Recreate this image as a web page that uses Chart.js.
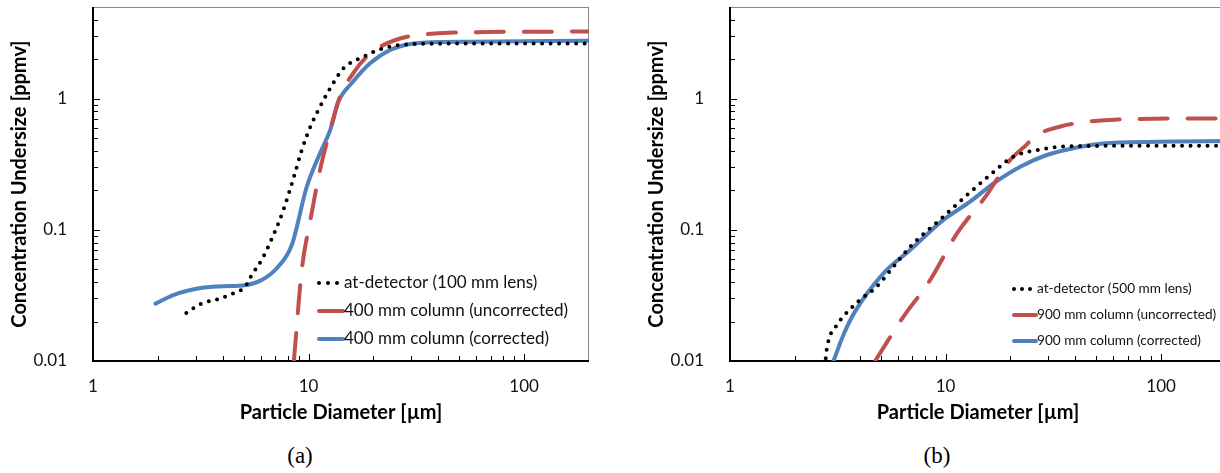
<!DOCTYPE html>
<html>
<head>
<meta charset="utf-8">
<script src="https://cdn.jsdelivr.net/npm/chart.js@4.4.1/dist/chart.umd.min.js"></script>
<style>
  html, body { margin: 0; padding: 0; background: #fff; overflow: hidden; width: 1220px; height: 473px; }
  .box { position: absolute; top: 0; width: 600px; height: 430px; }
  .cap { position: absolute; top: 443px; font-family: "Liberation Serif", serif; font-size: 23px; color: #000; transform: translateX(-50%); }
</style>
</head>
<body>
<div class="box" style="left:0"><canvas id="chart-a"></canvas></div>
<div class="box" style="left:637px"><canvas id="chart-b"></canvas></div>
<div class="cap" style="left:300px">(a)</div>
<div class="cap" style="left:937px">(b)</div>
<script>
// (a) 100 mm lens / 400 mm column
const detAX = [2.71, 3.14, 3.87, 4.48, 5.07, 5.45, 6.06, 6.87, 7.64, 8.51, 9.3, 10.2, 11.1, 12.6, 14.5, 18, 22.2, 30.6, 50, 200];
const detAY = [0.0232, 0.0271, 0.0299, 0.0328, 0.0367, 0.0452, 0.0589, 0.0912, 0.1415, 0.247, 0.405, 0.611, 0.819, 1.2, 1.7, 2.09, 2.42, 2.61, 2.63, 2.63];
const uncAX = [8.55, 9.3, 10.2, 11.3, 12.6, 14.0, 16.1, 18.6, 22.2, 29.6, 37, 56, 200];
const uncAY = [0.01, 0.0494, 0.119, 0.286, 0.576, 1.04, 1.56, 2.09, 2.56, 3.0, 3.12, 3.21, 3.25];
const corAX = [1.95, 2.34, 2.71, 3.27, 4.03, 5.07, 6.06, 7.12, 8.36, 9.81, 11.3, 12.6, 13.75, 16.1, 19.3, 23.9, 29.6, 36.6, 56, 200];
const corAY = [0.0274, 0.0317, 0.0342, 0.0363, 0.0372, 0.0378, 0.0414, 0.0509, 0.0766, 0.213, 0.383, 0.576, 0.946, 1.35, 1.86, 2.35, 2.61, 2.69, 2.72, 2.77];

// (b) 500 mm lens / 900 mm column
const detBX = [2.78, 2.81, 3.18, 3.58, 4.09, 4.71, 5.73, 6.85, 9.77, 12.8, 16.1, 20.6, 26.5, 39.2, 80, 200];
const detBY = [0.0105, 0.0123, 0.0194, 0.0245, 0.0301, 0.0358, 0.0523, 0.0743, 0.126, 0.189, 0.262, 0.361, 0.405, 0.435, 0.437, 0.437];
const uncBX = [4.71, 6.37, 8.48, 11.3, 15.5, 19.9, 23.2, 26.5, 33.8, 41.7, 63.4, 200];
const uncBY = [0.01, 0.0217, 0.0414, 0.094, 0.184, 0.34, 0.43, 0.528, 0.611, 0.656, 0.695, 0.708];
const corBX = [3.02, 3.38, 3.8, 5.15, 6.85, 9.77, 13.0, 16.7, 22.2, 29.5, 40.6, 53.6, 96, 200];
const corBY = [0.01, 0.0162, 0.0238, 0.0466, 0.0702, 0.119, 0.164, 0.226, 0.303, 0.372, 0.425, 0.456, 0.47, 0.475];

const labelsA = ["at-detector (100 mm lens)", "400 mm column (uncorrected)", "400 mm column (corrected)"];
const labelsB = ["at-detector (500 mm lens)", "900 mm column (uncorrected)", "900 mm column (corrected)"];

const xTicks = [1, 10, 100];
const yTicks = [0.01, 0.1, 1];
const xMinor = [2, 3, 4, 5, 6, 7, 8, 9, 10, 20, 30, 40, 50, 60, 70, 80, 90, 100];
const yMinor = [0.02, 0.03, 0.04, 0.05, 0.06, 0.07, 0.08, 0.09, 0.1, 0.2, 0.3, 0.4, 0.5, 0.6, 0.7, 0.8, 0.9, 1, 2, 3, 4];

const RED = "#C0504D", BLUE = "#4F81BD";
const FONT = "Lato, 'Open Sans', sans-serif";

function zip(xs, ys) { return xs.map((x, i) => ({ x: x, y: ys[i] })); }

function sets(labels, dx, dy, ux, uy, cx, cy) {
  return [
    { label: labels[0], data: zip(dx, dy), borderColor: "#000", borderWidth: 4, borderDash: [0, 8.5], borderCapStyle: "round", kind: "dot" },
    { label: labels[1], data: zip(ux, uy), borderColor: RED, borderWidth: 4, borderDash: [28, 20], borderCapStyle: "round", kind: "dash" },
    { label: labels[2], data: zip(cx, cy), borderColor: BLUE, borderWidth: 4, borderCapStyle: "round", kind: "solid" },
  ];
}

// frame, inside tick marks and the legend drawn inside the plot
const framePlugin = {
  id: "frame",
  beforeDatasetsDraw(chart) {
    const { ctx, chartArea: a, scales: { x, y } } = chart;
    ctx.save();
    ctx.strokeStyle = "#8a8a8a";
    ctx.lineWidth = 1;
    ctx.strokeRect(a.left + 0.5, a.top + 0.5, a.width - 1, a.height);
    ctx.strokeStyle = "#000";
    ctx.lineWidth = 1;
    ctx.beginPath();
    xMinor.forEach(v => {
      const px = Math.round(x.getPixelForValue(v)) + 0.5;
      const len = xTicks.includes(v) ? 7 : 5;
      ctx.moveTo(px, a.bottom); ctx.lineTo(px, a.bottom - len);
    });
    yMinor.forEach(v => {
      const py = Math.round(y.getPixelForValue(v)) + 0.5;
      const len = yTicks.includes(v) ? 7 : 5;
      ctx.moveTo(a.left, py); ctx.lineTo(a.left + len, py);
    });
    ctx.stroke();
    ctx.lineWidth = 2;
    ctx.beginPath();
    ctx.moveTo(a.left, a.top); ctx.lineTo(a.left, a.bottom);
    ctx.lineTo(a.right, a.bottom);
    ctx.stroke();
    ctx.restore();
  },
  afterDraw(chart, args, opts) {
    const { ctx, chartArea: a } = chart;
    ctx.save();
    ctx.font = opts.size + "px " + FONT;
    ctx.textBaseline = "middle";
    chart.data.datasets.forEach((ds, i) => {
      const yy = a.top + opts.y + i * opts.gap;
      const x0 = a.left + opts.x;
      ctx.strokeStyle = ds.borderColor;
      ctx.fillStyle = ds.borderColor;
      if (ds.kind === "dot") {
        for (let k = 0; k < 3; k++) {
          ctx.beginPath();
          ctx.arc(x0 + 2 + k * opts.dot, yy, 2, 0, Math.PI * 2);
          ctx.fill();
        }
      } else {
        ctx.lineWidth = 4;
        ctx.lineCap = "round";
        ctx.beginPath();
        ctx.moveTo(x0 + 2, yy); ctx.lineTo(x0 + opts.len, yy);
        ctx.stroke();
      }
      ctx.fillStyle = "#111";
      ctx.fillText(ds.label, x0 + opts.len + 1, yy);
    });
    ctx.restore();
  },
};

function makeChart(id, datasets, legend) {
  return new Chart(document.getElementById(id), {
    type: "line",
    data: { datasets: datasets },
    plugins: [framePlugin],
    options: {
      responsive: true,
      maintainAspectRatio: false,
      animation: false,
      elements: { point: { radius: 0 }, line: { cubicInterpolationMode: "monotone", fill: false } },
      layout: { padding: { top: 7, right: 11, left: 0, bottom: 0 } },
      plugins: { legend: { display: false }, tooltip: { enabled: false }, frame: legend },
      scales: {
        x: {
          type: "logarithmic",
          min: 1, max: 200,
          afterBuildTicks: s => { s.ticks = xTicks.map(v => ({ value: v })); },
          afterFit: s => { s.height = 69; s.paddingLeft = 0; s.paddingRight = 0; },
          grid: { display: false },
          border: { display: false },
          ticks: { padding: 7, color: "#111", font: { family: FONT, size: 17 }, callback: v => String(v), maxRotation: 0, autoSkip: false },
          title: { display: true, text: "Particle Diameter [µm]", color: "#000", font: { family: FONT, size: 20, weight: "bold" }, padding: { top: 0, bottom: 5 } },
        },
        y: {
          type: "logarithmic",
          min: 0.01, max: 5,
          afterBuildTicks: s => { s.ticks = yTicks.map(v => ({ value: v })); },
          afterFit: s => { s.width = 93; s.paddingTop = 0; s.paddingBottom = 0; },
          grid: { display: false },
          border: { display: false },
          ticks: { padding: 18, color: "#111", font: { family: FONT, size: 17 }, callback: v => String(v), autoSkip: false },
          title: { display: true, text: "Concentration Undersize [ppmv]", color: "#000", font: { family: FONT, size: 20, weight: "bold" }, padding: { top: 8, bottom: 0 } },
        },
      },
    },
  });
}

makeChart("chart-a", sets(labelsA, detAX, detAY, uncAX, uncAY, corAX, corAY),
  { x: 224, y: 276, gap: 28, size: 17, len: 26, dot: 9 });
makeChart("chart-b", sets(labelsB, detBX, detBY, uncBX, uncBY, corBX, corBY),
  { x: 282, y: 282, gap: 26, size: 13.6, len: 24, dot: 8 });
</script>
</body>
</html>
